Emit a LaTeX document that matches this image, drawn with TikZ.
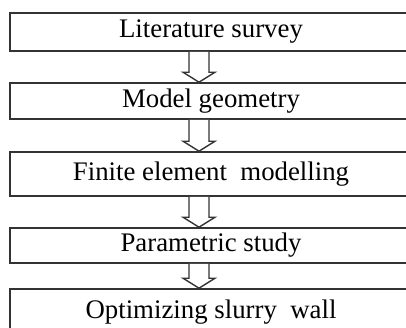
\documentclass[tikz,border=0pt]{standalone}
\usepackage{fontspec}
\setmainfont{Liberation Serif}
\usetikzlibrary{calc}

\tikzset{
  stage/.style={draw=black!80, line width=0.8pt, minimum width=201pt, inner sep=0pt,
    font=\fontsize{13.4}{15}\selectfont},
  hollow/.style={draw=black!80, line width=0.7pt, fill=white, line join=miter}
}

\begin{document}
\begin{tikzpicture}[x=0.5pt, y=-0.5pt]
  \clip (0,0) rectangle (406,327);
  \fill[white] (0,0) rectangle (406,327);
  \coordinate (ax) at (199,0);
  \node[stage, minimum height=19pt]   (b1) at (211,32)    {Literature survey};
  \node[stage, minimum height=18pt]   (b2) at (211,101)   {Model geometry};
  \node[stage, minimum height=22pt]   (b3) at (211,174)   {Finite element~ modelling};
  \node[stage, minimum height=17.5pt] (b4) at (211,245.5) {Parametric study};
  \node[stage, minimum height=23pt]   (b5) at (211,312)   {Optimizing slurry~ wall};
  \foreach \src/\dst in {b1/b2, b2/b3, b3/b4, b4/b5}
    { \draw[hollow] ($(\src.south -| ax)+(-10,0)$) -- ($(\dst.north -| ax)+(-10,-10)$) -- ++(-6,0)
        -- (\dst.north -| ax) -- ++(16,-10) -- ++(-6,0) -- ($(\src.south -| ax)+(10,0)$); }
\end{tikzpicture}
\end{document}
